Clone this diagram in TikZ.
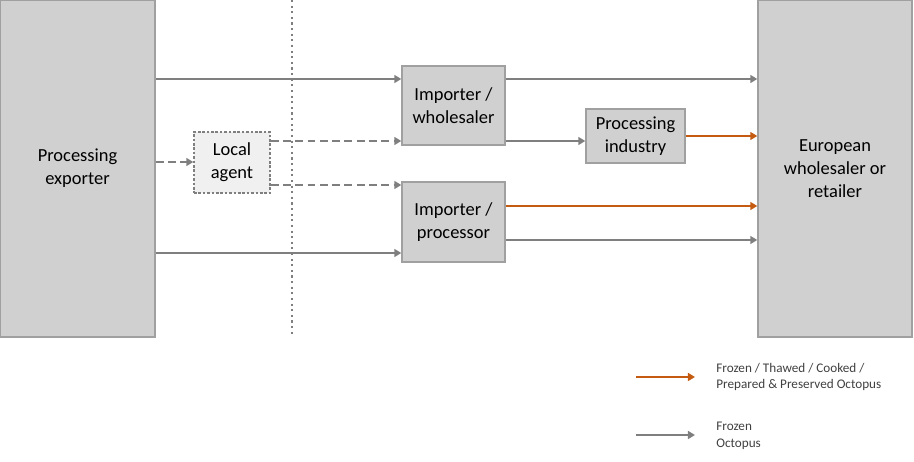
\documentclass[tikz,border=0pt]{standalone}
\usepackage{fontspec}
\setmainfont{Carlito}
\usetikzlibrary{arrows.meta}

\definecolor{boxgray}{HTML}{D0D0D0}
\definecolor{edgegray}{HTML}{A0A0A0}
\definecolor{linegray}{HTML}{7F7F7F}
\definecolor{octorange}{HTML}{C55A11}

\begin{document}
\begin{tikzpicture}[x=0.02cm, y=-0.02cm,
	box/.style={draw=edgegray, fill=boxgray, line width=0.8pt, align=center,
		inner sep=0pt, font=\fontsize{10.5}{13}\selectfont},
	agentbox/.style={box, draw=linegray, fill=gray!12, dash pattern=on 1.5pt off 1pt},
	flow/.style={draw=linegray, line width=1.1pt, -{Triangle[length=4pt,width=4.5pt]}},
	dashflow/.style={flow, dash pattern=on 4.5pt off 2.5pt},
	legendtext/.style={anchor=west, align=left, inner sep=0pt, text=black!75,
		font=\fontsize{7.5}{9.6}\selectfont}]
	\useasboundingbox (0,0) rectangle (914,462);

	% border line between the two countries
	\draw[linegray, line width=1.2pt, dotted] (292,0) -- (292,337);

	% boxes
	\node[box, minimum width=3.1cm, minimum height=6.74cm] (exp) at (77.5,168.5) {Processing\\exporter};
	\node[box, minimum width=3.08cm, minimum height=6.74cm] (eur) at (835,168.5) {European\\wholesaler or\\retailer};
	\node[agentbox, minimum width=1.52cm, minimum height=1.22cm] (agent) at (232,162.5) {Local\\agent};
	\node[box, minimum width=2.06cm, minimum height=1.58cm] (imw) at (453.5,105.5) {Importer /\\wholesaler};
	\node[box, minimum width=2.06cm, minimum height=1.6cm] (imp) at (453.5,222) {Importer /\\processor};
	\node[box, minimum width=1.98cm, minimum height=1.08cm] (ind) at (635.5,136) {Processing\\industry};

	% flows
	\draw[flow] (exp.east |- 0,79) -- (imw.west |- 0,79);
	\draw[flow] (imw.east |- 0,79) -- (eur.west |- 0,79);
	\draw[flow] (imw.east |- 0,141) -- (ind.west |- 0,141);
	\draw[flow, draw=octorange] (ind.east |- 0,136) -- (eur.west |- 0,136);
	\draw[dashflow] (exp.east |- 0,162) -- (agent.west |- 0,162);
	\draw[dashflow] (agent.east |- 0,141) -- (imw.west |- 0,141);
	\draw[dashflow] (agent.east |- 0,185) -- (imp.west |- 0,185);
	\draw[flow] (exp.east |- 0,253) -- (imp.west |- 0,253);
	\draw[flow, draw=octorange] (imp.east |- 0,206) -- (eur.west |- 0,206);
	\draw[flow] (imp.east |- 0,240) -- (eur.west |- 0,240);

	% legend
	\coordinate (lo1) at (636,377);
	\coordinate (lo2) at (695,377);
	\coordinate (lg1) at (636,435);
	\coordinate (lg2) at (695,435);
	\draw[flow, draw=octorange] (lo1) -- (lo2);
	\draw[flow] (lg1) -- (lg2);
	\node[legendtext] (lotext) at (716,377) {Frozen / Thawed / Cooked /\\Prepared \& Preserved Octopus};
	\node[legendtext] (lgtext) at (716,436) {Frozen\\Octopus};
\end{tikzpicture}
\end{document}
